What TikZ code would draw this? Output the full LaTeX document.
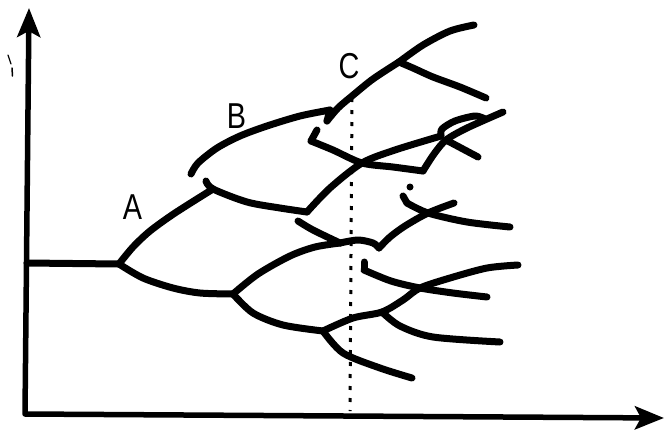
\documentclass[tikz,border=0pt]{standalone}
\usepackage{fontspec}
\setmainfont{Liberation Sans}
\usetikzlibrary{arrows.meta}
\begin{document}
\begin{tikzpicture}[x=1pt,y=-1pt,
  branch/.style={line width=7pt, line cap=round, line join=round},
  axisline/.style={line width=5.5pt, line join=round, >={Stealth[length=29pt,width=23pt,inset=6pt]}},
  lab/.style={font=\fontsize{36}{36}\selectfont, xscale=0.8, inner sep=0pt},
  guide/.style={line width=3pt, dash pattern=on 4pt off 8pt}]
\useasboundingbox (0,0) rectangle (665,432);
% coordinates
\coordinate (O) at (25,414);
\coordinate (Ytop) at (29,8);
\coordinate (Xend) at (664,418);
\coordinate (T0) at (27,263);
\coordinate (A) at (119,264);
\coordinate (J1) at (213,189);
\coordinate (D0) at (206,181);
\coordinate (K1) at (307,212);
\coordinate (X1) at (362,163);
\coordinate (L0) at (441,136);
\coordinate (B0) at (191,174);
\coordinate (B1) at (330,110);
\coordinate (C0) at (327,121);
\coordinate (F3) at (399,62);
\coordinate (E1) at (474,25);
\coordinate (E2) at (486,98);
\coordinate (H2) at (317,130);
\coordinate (H2b) at (311,141);
\coordinate (K2) at (423,171);
\coordinate (E3) at (503,112);
\coordinate (N1) at (446,140);
\coordinate (E4) at (478,157);
\coordinate (F2) at (233,294);
\coordinate (H3) at (298,221);
\coordinate (M1) at (340,243);
\coordinate (V1) at (379,248);
\coordinate (X3) at (428,213);
\coordinate (E5) at (454,203);
\coordinate (H4) at (403,196);
\coordinate (H4b) at (407,203);
\coordinate (E6) at (510,227);
\coordinate (H5) at (364,262);
\coordinate (H5b) at (364,270);
\coordinate (X4) at (420,288);
\coordinate (E7) at (487,297);
\coordinate (X5) at (323,331);
\coordinate (Y1) at (382,312);
\coordinate (E8) at (518,265);
\coordinate (E9) at (500,342);
\coordinate (E10) at (412,378);
\coordinate (Dtop) at (352,98);
\coordinate (Dbot) at (350,411);
% axes
\draw[axisline, <->] (Ytop) -- (O) -- (Xend);
% stray mark
\draw[line width=1.2pt, line cap=round] (8,55) -- (11,64);
\draw[line width=1.5pt, line cap=round] (12,68) -- (12.5,76);
% dotted guide
\draw[guide] (Dtop) -- (Dbot);
% trunk and branches
\draw[branch] (T0) -- (A);
\draw[branch] plot[smooth] coordinates {(A) (133,247) (150,231) (175,213) (J1)};
\draw[branch] plot[smooth] coordinates {(A) (143,278) (173,288) (200,293) (F2)};
\draw[branch] plot[smooth] coordinates {(D0) (J1) (247,202) (280,208) (K1)};
\draw[branch] plot[smooth] coordinates {(K1) (330,188) (X1) (395,150) (L0)};
\draw[branch] plot[smooth] coordinates {(B0) (198,163) (217,148) (240,136) (267,126) (300,116) (B1)};
\draw[branch] (B1) -- (C0);
\draw[branch] plot[smooth] coordinates {(C0) (338,108) (352,96) (373,79) (F3)};
\draw[branch] plot[smooth] coordinates {(F3) (423,45) (450,31) (E1)};
\draw[branch] plot[smooth] coordinates {(F3) (413,68) (433,77) (460,87) (E2)};
\draw[branch] (H2) -- (H2b);
\draw[branch] plot[smooth] coordinates {(H2b) (333,150) (X1) (393,167) (K2)};
\draw[branch] plot[smooth] coordinates {(K2) (434,154) (N1) (467,128) (E3)};
\draw[branch] plot[smooth] coordinates {(L0) (442,129) (455,121) (475,116) (485,119)};
\draw[branch] (N1) -- (E4);
\draw[branch] plot[smooth] coordinates {(H3) (313,230) (M1)};
\draw[branch] plot[smooth] coordinates {(F2) (258,274) (290,256) (315,247) (M1)};
\draw[branch] plot[smooth] coordinates {(M1) (358,240) (373,243) (V1)};
\draw[branch] plot[smooth] coordinates {(V1) (390,237) (405,226) (X3) (E5)};
\fill (410,187) circle (3.5pt);
\draw[branch] (H4) -- (H4b);
\draw[branch] plot[smooth] coordinates {(H4b) (X3) (467,222) (E6)};
\draw[branch] (H5) -- (H5b);
\draw[branch] plot[smooth] coordinates {(H5b) (391,281) (X4) (453,293) (E7)};
\draw[branch] plot[smooth] coordinates {(F2) (253,313) (283,325) (X5)};
\draw[branch] plot[smooth] coordinates {(X5) (353,318) (Y1) (403,300) (X4) (450,278) (487,268) (E8)};
\draw[branch] plot[smooth] coordinates {(Y1) (400,326) (433,337) (E9)};
\draw[branch] plot[smooth] coordinates {(X5) (343,353) (380,368) (E10)};
% labels
\node[lab] (labA) at (132.5,207.5) {A};
\node[lab] (labB) at (236.5,116) {B};
\node[lab] (labC) at (349,66.5) {C};
\end{tikzpicture}
\end{document}
